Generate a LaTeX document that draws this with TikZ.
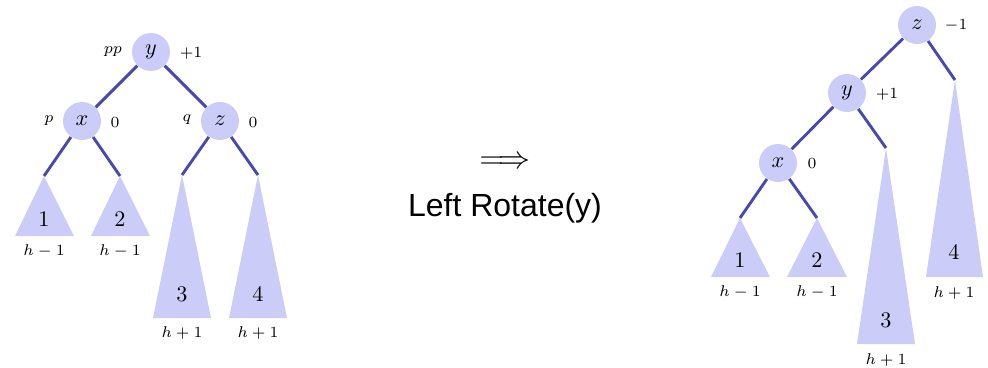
\documentclass[tikz,border=0pt]{standalone}
\usepackage{fontspec}
\newfontfamily\labfont{Liberation Sans}
\definecolor{nodefill}{RGB}{204,204,248}
\definecolor{edgecol}{RGB}{72,72,176}
\begin{document}
\begin{tikzpicture}[x=0.45pt,y=-0.45pt,
 vtx/.style={circle,fill=nodefill,minimum size=17.1pt,inner sep=0pt,font=\normalsize},
 edge/.style={draw=edgecol,line width=1.3pt},
 sub/.style={fill=nodefill},
 lbl/.style={font=\scriptsize,inner sep=0pt},
 num/.style={inner sep=0pt,font=\normalsize}]
\useasboundingbox (0,0) rectangle (988,368);

% ---------- left tree ----------
\node[vtx] (ly) at (151,52) {$y$};
\node[vtx] (lx) at (82,121) {$x$};
\node[vtx] (lz) at (220,121) {$z$};
\node[lbl] (lpp) at (113,52) {$pp$};
\node[lbl] (lyb) at (191,53) {$+1$};
\node[lbl] (lp) at (49,121) {$p$};
\node[lbl] (lxb) at (115,122) {$0$};
\node[lbl] (lq) at (187,120) {$q$};
\node[lbl] (lzb) at (253,122) {$0$};

\coordinate (la1) at (44,176);
\coordinate (la2) at (120,176);
\coordinate (la3) at (182,175);
\coordinate (la4) at (258,175);
\fill[sub] (la1) -- (15,236) -- (74,236) -- cycle;
\fill[sub] (la2) -- (91,236) -- (150,236) -- cycle;
\fill[sub] (la3) -- (153,318) -- (211,318) -- cycle;
\fill[sub] (la4) -- (229,318) -- (287,318) -- cycle;

\draw[edge] (ly) -- (lx);
\draw[edge] (ly) -- (lz);
\draw[edge] (lx) -- (la1);
\draw[edge] (lx) -- (la2);
\draw[edge] (lz) -- (la3);
\draw[edge] (lz) -- (la4);

\node[num] (ln1) at (44,219) {$1$};
\node[num] (ln2) at (120,219) {$2$};
\node[num] (ln3) at (182,294) {$3$};
\node[num] (ln4) at (258,294) {$4$};
\node[lbl] (lh1) at (44,251) {$h-1$};
\node[lbl] (lh2) at (120,251) {$h-1$};
\node[lbl] (lh3) at (182,333) {$h+1$};
\node[lbl] (lh4) at (258,333) {$h+1$};

% ---------- middle ----------
\node[font=\Large,inner sep=0pt] (arr) at (505,163) {$\Longrightarrow$};
\node[font=\labfont\Large,inner sep=0pt] (cap) at (505,208) {Left Rotate(y)};

% ---------- right tree ----------
\node[vtx] (rz) at (917,25) {$z$};
\node[vtx] (ry) at (847,93) {$y$};
\node[vtx] (rx) at (778,163) {$x$};
\node[lbl] (rzb) at (956,25) {$-1$};
\node[lbl] (ryb) at (887,94) {$+1$};
\node[lbl] (rxb) at (812,163) {$0$};

\coordinate (ra1) at (740,218);
\coordinate (ra2) at (817,218);
\coordinate (ra3) at (886,148);
\coordinate (ra4) at (955,80);
\fill[sub] (ra1) -- (711,277) -- (770,277) -- cycle;
\fill[sub] (ra2) -- (787,277) -- (847,277) -- cycle;
\fill[sub] (ra3) -- (857,344) -- (915,344) -- cycle;
\fill[sub] (ra4) -- (926,277) -- (983,277) -- cycle;

\draw[edge] (rz) -- (ry);
\draw[edge] (rz) -- (ra4);
\draw[edge] (ry) -- (rx);
\draw[edge] (ry) -- (ra3);
\draw[edge] (rx) -- (ra1);
\draw[edge] (rx) -- (ra2);

\node[num] (rn1) at (740,260) {$1$};
\node[num] (rn2) at (817,260) {$2$};
\node[num] (rn3) at (886,320) {$3$};
\node[num] (rn4) at (954,252) {$4$};
\node[lbl] (rh1) at (740,292) {$h-1$};
\node[lbl] (rh2) at (817,292) {$h-1$};
\node[lbl] (rh3) at (886,360) {$h+1$};
\node[lbl] (rh4) at (954,293) {$h+1$};
\end{tikzpicture}
\end{document}
